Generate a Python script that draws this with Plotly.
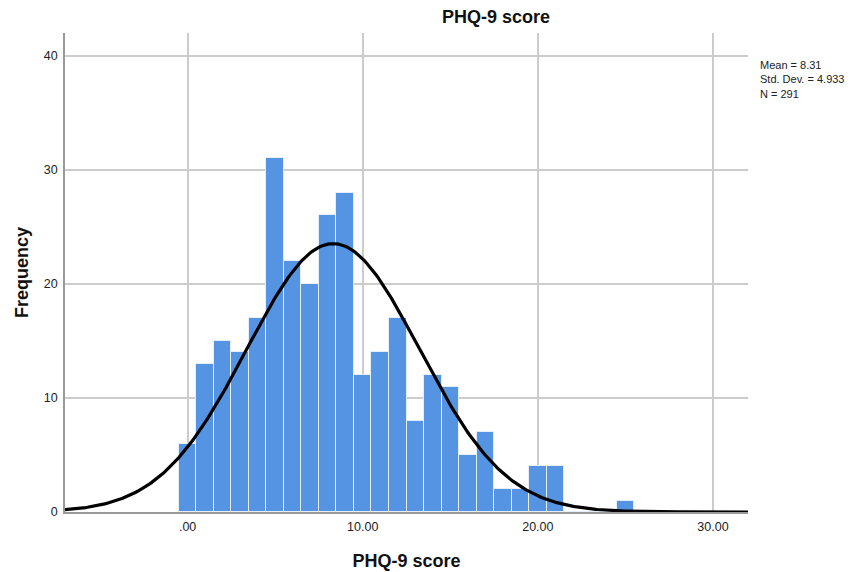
import numpy as np
import plotly.graph_objects as go

# Histogram data (bin centres, bin width 1)
scores = list(range(0, 26))
freqs = [6, 13, 15, 14, 17, 31, 22, 20, 26, 28, 12, 14, 17, 8, 12, 11, 5, 7, 2, 2, 4, 4, 0, 0, 0, 1]

MEAN = 8.31
SD = 4.933
N = 291

x_tickvals = [0, 10, 20, 30]
x_ticktext = [".00", "10.00", "20.00", "30.00"]
y_tickvals = [0, 10, 20, 30, 40]

stats_lines = ["Mean = 8.31", "Std. Dev. = 4.933", "N = 291"]

FONT = "Arial, Liberation Sans, sans-serif"
OFF = 8  # page body margin
W, H = 857 - OFF, 572 - OFF
# plot area in page pixels
PX0, PX1, PY0, PY1 = 65, 748, 33, 512
L, R, T, B = PX0 - OFF, W - (PX1 - OFF), PY0 - OFF, H - (PY1 - OFF)

xs = np.linspace(-7.2, 32.2, 400)
ys = N * 1.0 / (SD * np.sqrt(2 * np.pi)) * np.exp(-0.5 * ((xs - MEAN) / SD) ** 2)

fig = go.Figure()
fig.add_trace(go.Bar(
    x=scores, y=freqs, width=1,
    marker=dict(color="#5594E3", line=dict(color="#e6eefa", width=1)),
    hoverinfo="x+y",
))
fig.add_trace(go.Scatter(
    x=xs, y=ys, mode="lines",
    line=dict(color="black", width=3.2),
    cliponaxis=True,
))

fig.update_layout(
    width=W, height=H,
    margin=dict(l=L, r=R, t=T, b=B),
    plot_bgcolor="white", paper_bgcolor="white",
    showlegend=False,
    bargap=0,
    title=dict(text="<b>PHQ-9 score</b>", x=(496 - OFF) / W, xanchor="center",
               y=1 - (17 - OFF) / H, yanchor="middle",
               font=dict(family=FONT, size=18, color="#111")),
    font=dict(family=FONT, color="#222"),
)
fig.update_xaxes(
    range=[-7.0, 32.0],
    tickvals=x_tickvals, ticktext=x_ticktext,
    tickfont=dict(size=12.5, color="#222"),
    showgrid=True, gridcolor="#cccccc", gridwidth=1.5,
    showline=True, linecolor="#999999", linewidth=1.5,
    zeroline=False, ticks="outside", ticklen=2, tickcolor="rgba(0,0,0,0)",
    automargin=False,
    title=dict(text="<b>PHQ-9 score</b>", font=dict(size=18, color="#111"), standoff=22),
)
fig.update_yaxes(
    range=[0, 42.0],
    tickvals=y_tickvals,
    tickfont=dict(size=12.5, color="#222"),
    showgrid=True, gridcolor="#cccccc", gridwidth=1.5,
    showline=True, linecolor="#999999", linewidth=1.5,
    zeroline=False, ticks="outside", ticklen=3, tickcolor="rgba(0,0,0,0)",
    automargin=False,
    title=dict(text="<b>Frequency</b>", font=dict(size=18, color="#111"), standoff=11),
)

pw, ph = PX1 - PX0, PY1 - PY0
fig.add_annotation(
    x=(759 - PX0) / pw, xref="paper", xanchor="left",
    y=(PY1 - 58) / ph, yref="paper", yanchor="top",
    text="<br>".join(stats_lines), showarrow=False, align="left",
    borderpad=0,
    font=dict(family=FONT, size=11, color="#222"),
)

fig.write_html("out.html")
